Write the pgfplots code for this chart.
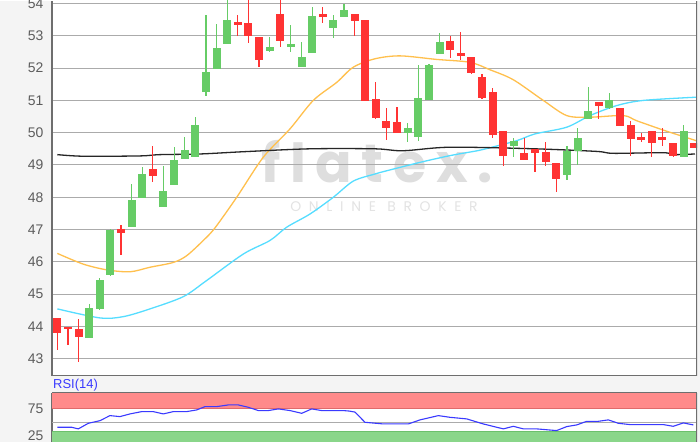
\documentclass[border=0pt]{standalone}
\usepackage{pgfplots}
\pgfplotsset{compat=1.18}
\usepackage{pgfplotstable}
\usepackage{fontspec}
\setmainfont{Liberation Sans}
\newfontfamily\wmfont[LetterSpace=18]{Poppins}
\newfontfamily\wmsmall[LetterSpace=55]{Poppins}
\definecolor{bggray}{HTML}{F4F4F4}
\definecolor{cgreen}{HTML}{66CC66}
\definecolor{cred}{HTML}{FF3333}
\definecolor{maYellow}{HTML}{FFC04D}
\definecolor{maCyan}{HTML}{55DDFF}
\definecolor{gridgray}{HTML}{ABABAB}
\definecolor{axisgray}{HTML}{6E6E6E}
\definecolor{labelgray}{HTML}{5C5C5C}
\definecolor{wm}{HTML}{DEDEDE}
\definecolor{wmtwo}{HTML}{E3E3E3}
\definecolor{rsired}{HTML}{FF8A8A}
\definecolor{rsiredline}{HTML}{E06A6A}
\definecolor{rsigreen}{HTML}{8AD68A}
\definecolor{rsigreenline}{HTML}{6CC06C}
\definecolor{rsiblue}{HTML}{3A3AFF}

\pgfplotstableread{
x o c h l
4 43.64 44.58 44.70 43.64
5 44.55 45.42 45.50 44.50
6 45.58 46.97 47.00 45.55
8 47.07 47.92 48.41 47.07
9 47.98 48.72 48.93 47.98
11 47.69 48.19 48.96 47.69
12 48.38 49.15 49.55 48.38
13 49.18 49.47 49.88 49.18
14 49.26 50.24 50.50 49.26
15 51.27 51.89 53.65 51.14
16 51.98 52.64 53.36 51.98
17 52.74 53.48 54.30 52.74
21 52.54 52.67 52.98 52.50
23 52.68 52.72 53.33 52.50
24 52.05 52.33 52.81 52.05
25 52.46 53.62 53.90 52.46
27 53.23 53.49 53.65 52.92
28 53.59 53.80 54.00 53.59
34 50.00 50.16 50.29 49.70
35 49.86 51.09 52.09 49.75
36 51.01 52.10 52.12 51.01
37 52.43 52.81 53.10 52.43
44 49.58 49.75 49.82 49.24
49 48.70 49.42 49.60 48.54
50 49.42 49.84 50.14 48.99
51 50.42 50.68 51.42 50.42
53 50.75 51.02 51.22 50.75
60 49.24 50.04 50.24 49.24
}\upcandles

\pgfplotstableread{
x o c h l
1 44.27 43.80 44.27 43.28
2 43.98 43.92 43.98 43.41
3 43.93 43.67 44.22 42.88
7 47.00 46.90 47.15 46.20
10 48.87 48.65 49.60 48.48
18 53.44 53.34 53.65 53.00
19 53.40 53.00 54.30 52.77
20 52.98 52.26 52.98 52.02
22 53.69 52.85 54.30 52.67
26 53.67 53.57 53.88 53.41
29 53.69 53.46 53.69 53.00
30 53.49 50.99 53.49 50.99
31 51.04 50.47 51.58 50.44
32 50.37 50.16 50.76 49.77
33 50.32 49.99 50.80 49.99
38 52.85 52.56 53.00 52.30
39 52.46 52.40 53.13 52.26
40 52.33 51.86 52.33 51.81
41 51.73 51.06 51.81 51.06
42 51.25 49.94 51.37 49.83
43 50.06 49.29 50.06 48.98
45 49.37 49.16 49.82 49.16
46 49.49 49.37 49.49 48.77
47 49.39 49.08 49.70 48.98
48 49.07 48.57 49.07 48.16
52 50.96 50.84 50.96 50.42
54 50.78 50.22 50.78 50.22
55 50.24 49.79 50.36 49.29
56 49.86 49.78 49.99 49.70
57 50.04 49.68 50.04 49.24
58 49.86 49.78 50.14 49.58
59 49.67 49.29 49.67 49.24
61 49.67 49.53 49.67 49.53
}\downcandles

\pgfplotsset{
  candlewick/.style={draw=none, mark=none, forget plot,
    error bars/.cd, y dir=both, y explicit, error mark=none,
    error bar style={line width=1.2bp, draw=#1}},
  candlebody/.style={draw=none, mark=none, forget plot,
    error bars/.cd, y dir=both, y explicit, error mark=none,
    error bar style={line width=8bp, draw=#1}},
}

\begin{document}
\begin{tikzpicture}
\fill[bggray] (0bp,0bp) rectangle (700bp,441bp);
\fill[white] (52bp,66bp) rectangle (697bp,441bp);
\fill[white] (52bp,0bp) rectangle (697bp,49bp);
\node[font=\wmfont\bfseries\fontsize{54}{54}\selectfont, text=wm, anchor=base, inner sep=0pt] at (377bp,259bp) {flatex.};
\node[font=\wmsmall\fontsize{14}{14}\selectfont, text=wmtwo, anchor=center, inner sep=0pt] at (384bp,235bp) {ONLINE BROKER};

\begin{axis}[
  at={(52bp,66bp)}, anchor=south west, scale only axis,
  width=645bp, height=375bp,
  xmin=0.5, xmax=61.25, ymin=42.473, ymax=54.093,
  axis x line*=bottom, axis y line*=left,
  xtick=\empty, ytick={43,44,...,54},
  ymajorgrids, grid style={color=gridgray, line width=1bp},
  major tick length=0pt,
  axis line style={draw=axisgray, line width=1.2bp, -},
  tick label style={font=\fontsize{14}{14}\selectfont, text=labelgray},
  yticklabel style={xshift=-5bp, overlay},
  /pgf/number format/assume math mode=true,
]
% moving averages
\addplot[color=maYellow, line width=1.3bp, smooth] coordinates {
(1,46.26) (3.42,45.93) (5.65,45.75) (7.85,45.69) (9.73,45.83) (11.93,45.98) (13.19,46.19)
(14.75,46.66) (15.85,47.05) (17.9,48.0) (20.4,49.24) (22.92,50.12) (25.11,51.0) (27.32,51.56)
(28.88,52.03) (30.92,52.29) (33.28,52.38) (36.73,52.27) (39.87,52.18) (41.75,51.95) (43.95,51.64)
(46.77,51.0) (48.98,50.53) (51.17,50.48) (54.31,50.53) (55.57,50.37) (58.08,50.08) (59.96,49.88) (61.2,49.75)
};
\addplot[color=maCyan, line width=1.3bp, smooth] coordinates {
(1,44.54) (5.02,44.26) (7.22,44.3) (9.73,44.54) (12.87,44.92) (15.07,45.42) (18.52,46.24)
(21.03,46.66) (22.6,47.07) (24.8,47.48) (27.0,48.0) (28.88,48.5) (30.92,48.72) (32.03,48.82)
(35.16,49.08) (38.0,49.29) (39.87,49.4) (41.1,49.48) (44.24,49.75) (45.97,49.96) (48.98,50.17)
(51.17,50.53) (53.69,50.84) (56.2,51.0) (61.2,51.1)
};
\addplot[color=black!85, line width=1.3bp, smooth] coordinates {
(1,49.32) (3.45,49.27) (8.79,49.28) (10.67,49.32) (14.44,49.34) (18.52,49.41) (24.8,49.5)
(30.92,49.5) (33.56,49.44) (38.0,49.55) (45.97,49.5) (51.78,49.42) (53.37,49.36) (58.08,49.38)
(59.02,49.32) (61.06,49.34)
};
% candles
\addplot[candlewick=cgreen] table[x=x, y expr={(\thisrow{h}+\thisrow{l})/2}, y error expr={(\thisrow{h}-\thisrow{l})/2}] {\upcandles};
\addplot[candlebody=cgreen] table[x=x, y expr={(\thisrow{o}+\thisrow{c})/2}, y error expr={max(abs(\thisrow{o}-\thisrow{c})/2,0.04)}] {\upcandles};
\addplot[candlewick=cred] table[x=x, y expr={(\thisrow{h}+\thisrow{l})/2}, y error expr={(\thisrow{h}-\thisrow{l})/2}] {\downcandles};
\addplot[candlebody=cred] table[x=x, y expr={(\thisrow{o}+\thisrow{c})/2}, y error expr={max(abs(\thisrow{o}-\thisrow{c})/2,0.04)}] {\downcandles};
\draw[axisgray, line width=1.2bp] (rel axis cs:1,0) -- (rel axis cs:1,1);
\end{axis}

\begin{axis}[
  at={(52bp,49bp)}, anchor=north west, scale only axis,
  width=645bp, height=49bp,
  xmin=0.5, xmax=61.25, ymin=14.8, ymax=104.2,
  axis x line*=top, axis y line*=left,
  xtick=\empty, ytick={25,75},
  major tick length=0pt,
  axis line style={draw=axisgray, line width=1.2bp, -},
  tick label style={font=\fontsize{14}{14}\selectfont, text=labelgray},
  yticklabel style={xshift=-5bp, overlay},
  /pgf/number format/assume math mode=true,
]
\addplot[draw=none, fill=rsired] coordinates {(0.5,75) (61.25,75) (61.25,104.2) (0.5,104.2)} -- cycle;
\addplot[color=rsiredline, line width=1bp] coordinates {(0.5,75) (61.25,75)};
\addplot[draw=none, fill=rsigreen] coordinates {(0.5,14.8) (61.25,14.8) (61.25,33) (0.5,33)} -- cycle;
\addplot[color=rsigreenline, line width=1bp] coordinates {(0.5,33) (61.25,33)};
\addplot[color=gridgray, line width=1bp] coordinates {(0.5,50) (61.25,50)};
\addplot[color=rsiblue, line width=1.1bp] coordinates {
(1,40.9) (2.36,40.9) (2.98,38) (3.92,48.2) (5.02,53) (5.96,62.2) (6.9,60.4) (7.85,65.3)
(8.95,69.5) (10.04,69.5) (10.98,65.3) (11.93,69.5) (13.19,69.5) (14.13,72.6) (14.91,78.6)
(16.01,78.6) (17.11,81.7) (18.05,81.7) (18.99,77.4) (19.93,71.4) (20.87,71.4) (21.82,74.4)
(22.92,71.4) (24.02,66.4) (24.96,74.4) (25.9,71.4) (27,71.4) (27.94,71.4) (28.5,70.5) (29.04,68.6)
(29.98,50) (31.71,47) (34.06,47) (35.16,54.4) (36.89,62.2) (37.99,59.1) (39.56,56.2)
(41.12,47) (43.01,38) (43.95,42.7) (44.89,38) (46.15,38) (48.03,34.9) (48.98,42.2) (49.92,45.2)
(50.86,51.8) (51.96,51.8) (52.9,54.4) (53.84,48.2) (54.94,45.8) (56.82,45.8) (58.08,45.8)
(59.02,42.7) (59.96,48.9) (60.91,45.2)
};
\draw[axisgray, line width=1.2bp] (rel axis cs:1,0) -- (rel axis cs:1,1);
\end{axis}
\node[font=\fontsize{13}{13}\selectfont, text=rsiblue, anchor=west, inner sep=0pt] at (53bp,56bp) {RSI(14)};
\end{tikzpicture}
\end{document}
